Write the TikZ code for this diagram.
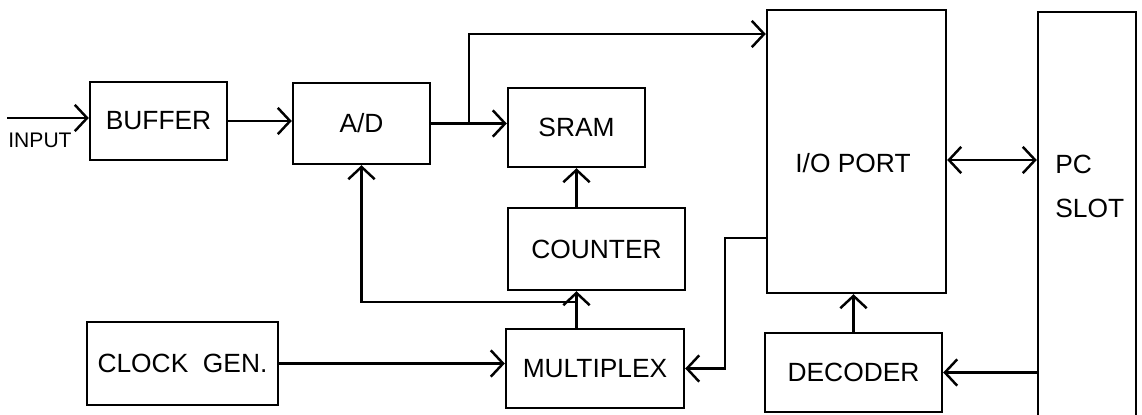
\documentclass[tikz,border=0pt]{standalone}
\usepackage{fontspec}
\setmainfont{Liberation Sans}
\usepackage{tikz}
\usetikzlibrary{arrows.meta, positioning, calc}
\tikzset{
  >={Straight Barb[length=7pt,width=15pt]},  % open chevron tips
  % blocks
  block/.style={rectangle,draw=black,line width=1.4pt,inner sep=0pt,font=\fontsize{15}{18}\selectfont},
  block text/.style={inner sep=0pt,font=\fontsize{15}{24.5}\selectfont},
  % connections
  connect/.style={line width=1.4pt,black},
  connect arrow/.style={connect,->}
}

\begin{document}
\begin{tikzpicture}[x=0.02cm,y=-0.02cm]
        \useasboundingbox (0,0) rectangle (1142,414);
        % blocks
        \node[block,minimum width=2.74cm,minimum height=1.56cm] (buffer) at (158.5,121) {BUFFER};
        \node[block,minimum width=2.74cm,minimum height=1.62cm] (ad) at (361.5,123.5) {A/D};
        \node[block,minimum width=2.74cm,minimum height=1.58cm] (sram) at (576.5,127.5) {SRAM};
        \node[block,minimum width=3.54cm,minimum height=1.64cm] (counter) at (596.5,249) {COUNTER};
        \node[block,minimum width=3.82cm,minimum height=1.66cm] (clock) at (182.5,363.5) {CLOCK\ \ GEN.};
        \node[block,minimum width=3.56cm,minimum height=1.58cm] (multiplex) at (595,368.5) {MULTIPLEX};
        \node[block,minimum width=3.54cm,minimum height=1.58cm] (decoder) at (853.5,372.5) {DECODER};
        \node[block,minimum width=3.58cm,minimum height=5.66cm] (ioport) at (856.5,151.5) {};
        \node[block text] (iotext) at (853,163) {I/O PORT};
        \node[block,minimum width=1.96cm,minimum height=8.36cm] (pcslot) at (1087,221) {};
        \node[block text,anchor=base west,align=left] (pctext) at (1055,217) {PC\\SLOT};
        \node[block text,font=\fontsize{12}{14}\selectfont] (inputtext) at (40,140) {INPUT};
        % connections
        \coordinate (inp) at (7,118);
        \coordinate (split) at ($(ad.east)!0.5!(ad.east -| sram.west)$);
        \coordinate (bend) at (725,238);
        \draw[connect arrow] (inp) -- (inp -| buffer.west);
        \draw[connect arrow] (buffer.east) -- (buffer.east -| ad.west);
        \draw[connect arrow] (ad.east) -- (ad.east -| sram.west);
        \draw[connect arrow] (split) |- (ioport.west |- 0,34);
        \draw[connect arrow] (sram.south |- counter.north) -- (sram.south);
        \draw[connect arrow] (sram.south |- multiplex.north) -- (sram.south |- counter.south);
        \draw[connect arrow] (sram.south |- 0,302) -| (ad.south);
        \draw[connect arrow] (clock.east) -- (clock.east -| multiplex.west);
        \draw[connect arrow] (ioport.west |- bend) -- (bend) |- (multiplex.east);
        \draw[connect,<->] (ioport.east |- 0,160) -- (pcslot.west |- 0,160);
        \draw[connect arrow] (decoder.north) -- (decoder.north |- ioport.south);
        \draw[connect arrow] (pcslot.west |- decoder.east) -- (decoder.east);
      \end{tikzpicture}
\end{document}
